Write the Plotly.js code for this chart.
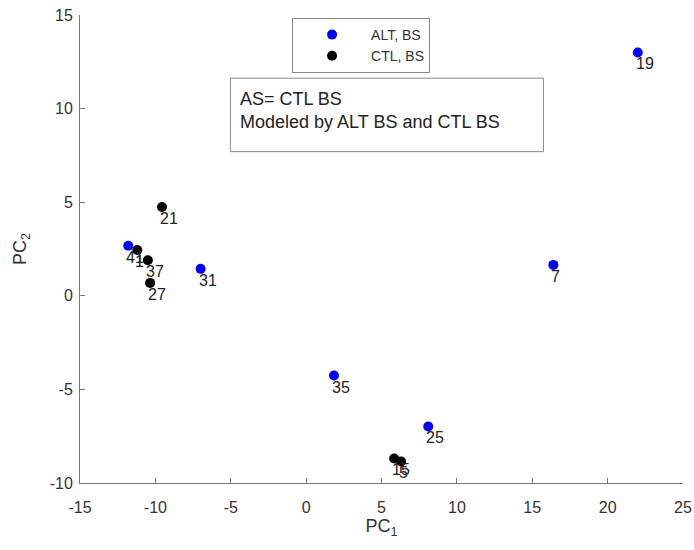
<!DOCTYPE html>
<html>
<head>
<meta charset="utf-8">
<script src="https://cdn.plot.ly/plotly-3.0.1.min.js"></script>
<style>body{margin:0;padding:0;background:#fff;} #chart{width:694px;height:550px;}</style>
</head>
<body>
<div id="chart"></div>
<script>
const altX = [22.0, 16.4, -11.8, -7.0, 1.85, 8.1];
const altY = [13.0, 1.65, 2.67, 1.44, -4.26, -6.98];
const altLabels = ['19', '7', '41', '31', '35', '25'];

const ctlX = [-9.56, -11.2, -10.5, -10.35, 5.84, 6.3];
const ctlY = [4.74, 2.45, 1.9, 0.69, -8.69, -8.85];
const ctlLabels = ['21', '1', '37', '27', '15', '5'];

const xTicks = [-15, -10, -5, 0, 5, 10, 15, 20, 25];
const yTicks = [-10, -5, 0, 5, 10, 15];

const noteLines = ['AS= CTL BS', 'Modeled by ALT BS and CTL BS'];

const FONT = 'Liberation Sans, Arial, sans-serif';
const labelFont = {family: FONT, size: 16, color: '#222'};

const traces = [
  {x: altX, y: altY, mode: 'markers', type: 'scatter', name: 'ALT, BS',
   marker: {color: '#0000ff', size: 10}},
  {x: ctlX, y: ctlY, mode: 'markers', type: 'scatter', name: 'CTL, BS',
   marker: {color: '#000000', size: 10}}
];

function pointLabels(xs, ys, texts) {
  return xs.map((x, i) => ({
    x: x, y: ys[i], xref: 'x', yref: 'y', text: texts[i], showarrow: false,
    xanchor: 'left', yanchor: 'top', xshift: -4, yshift: -1, font: labelFont
  }));
}

const annotations = pointLabels(altX, altY, altLabels).concat(pointLabels(ctlX, ctlY, ctlLabels));
annotations.push({xref: 'paper', yref: 'paper', x: 0.262, y: 0.847, xanchor: 'left', yanchor: 'top', align: 'left',
  text: noteLines.join('<br>'), showarrow: false, font: {family: FONT, size: 18, color: '#222'}});

const layout = {
  width: 694, height: 550,
  margin: {l: 80, r: 11, t: 15, b: 67},
  paper_bgcolor: '#fff', plot_bgcolor: '#fff',
  font: {family: FONT, size: 16, color: '#333'},
  showlegend: true,
  legend: {x: 0.3517, y: 0.9936, xanchor: 'left', yanchor: 'top', bordercolor: '#888', borderwidth: 1,
           bgcolor: '#fff', font: {family: FONT, size: 14, color: '#333'}, itemwidth: 68, tracegroupgap: 0},
  xaxis: {range: [-15, 25], tickvals: xTicks, ticktext: xTicks.map(String), showgrid: false, zeroline: false,
          showline: true, linecolor: '#777', linewidth: 1, ticks: 'inside', ticklen: 5, tickcolor: '#777',
          ticklabelstandoff: 10, tickfont: {size: 16, color: '#333'},
          title: {text: 'PC<sub>1</sub>', font: {size: 18, color: '#333'}, standoff: 4}},
  yaxis: {range: [-10, 15], tickvals: yTicks, ticktext: yTicks.map(String), showgrid: false, zeroline: false,
          showline: true, linecolor: '#777', linewidth: 1, ticks: 'inside', ticklen: 5, tickcolor: '#777',
          ticklabelstandoff: 3, tickfont: {size: 16, color: '#333'},
          title: {text: 'PC<sub>2</sub>', font: {size: 18, color: '#333'}, standoff: 18}},
  shapes: [
    {type: 'rect', xref: 'paper', yref: 'paper', x0: 0.2494, x1: 0.7686, y0: 0.708, y1: 0.865,
     line: {color: '#888', width: 1}, fillcolor: '#fff', layer: 'below'}
  ],
  annotations: annotations
};

Plotly.newPlot('chart', traces, layout, {displayModeBar: false, staticPlot: true});
</script>
</body>
</html>
